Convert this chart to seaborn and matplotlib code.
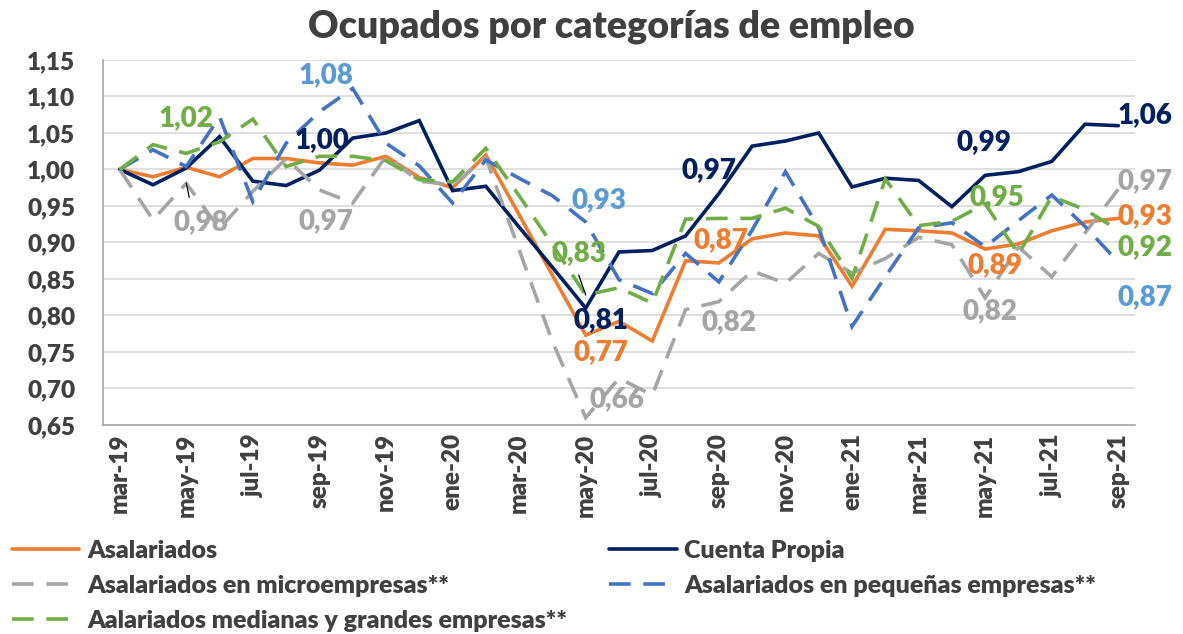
import matplotlib
matplotlib.use("Agg")
import matplotlib.pyplot as plt
import seaborn as sns
import numpy as np
import pandas as pd

months = ['mar-19', 'abr-19', 'may-19', 'jun-19', 'jul-19', 'ago-19', 'sep-19', 'oct-19',
          'nov-19', 'dic-19', 'ene-20', 'feb-20', 'mar-20', 'abr-20', 'may-20', 'jun-20',
          'jul-20', 'ago-20', 'sep-20', 'oct-20', 'nov-20', 'dic-20', 'ene-21', 'feb-21',
          'mar-21', 'abr-21', 'may-21', 'jun-21', 'jul-21', 'ago-21', 'sep-21']

asalariados = [1.000, 0.990, 1.003, 0.990, 1.015, 1.015, 1.009, 1.006, 1.018, 0.989, 0.975,
               1.020, 0.938, 0.855, 0.773, 0.792, 0.765, 0.875, 0.872, 0.905, 0.913, 0.909,
               0.840, 0.918, 0.916, 0.913, 0.891, 0.898, 0.916, 0.928, 0.933]
cuenta_propia = [1.000, 0.979, 1.002, 1.045, 0.984, 0.978, 0.999, 1.043, 1.050, 1.067, 0.971,
                 0.977, 0.921, 0.866, 0.810, 0.887, 0.889, 0.909, 0.967, 1.032, 1.039, 1.050,
                 0.976, 0.988, 0.985, 0.949, 0.992, 0.997, 1.011, 1.062, 1.060]
micro = [1.000, 0.931, 0.981, 0.919, 0.970, 1.015, 0.972, 0.954, 1.018, 0.984, 0.979,
         1.016, 0.890, 0.764, 0.660, 0.714, 0.691, 0.808, 0.819, 0.861, 0.844, 0.885,
         0.858, 0.878, 0.907, 0.897, 0.824, 0.894, 0.853, 0.913, 0.973]
pequenas = [1.000, 1.027, 1.004, 1.072, 0.956, 1.036, 1.079, 1.111, 1.036, 1.005, 0.954,
            1.013, 0.988, 0.964, 0.928, 0.849, 0.830, 0.885, 0.846, 0.917, 0.997, 0.920,
            0.785, 0.853, 0.920, 0.927, 0.894, 0.930, 0.965, 0.922, 0.873]
medianas = [1.000, 1.034, 1.022, 1.038, 1.069, 1.004, 1.018, 1.018, 1.012, 0.986, 0.983,
            1.029, 0.964, 0.897, 0.828, 0.838, 0.817, 0.932, 0.933, 0.933, 0.947, 0.922,
            0.851, 0.987, 0.923, 0.929, 0.953, 0.884, 0.963, 0.945, 0.917]

names = ['Asalariados', 'Cuenta Propia', 'Asalariados en microempresas**',
         'Asalariados en pequeñas empresas**', 'Aalariados medianas y grandes empresas**']
series = [asalariados, cuenta_propia, micro, pequenas, medianas]
line_colors = ['#ED7D31', '#002060', '#A5A5A5', '#4472C4', '#70AD47']
label_colors = ['#ED7D31', '#002060', '#A5A5A5', '#5B9BD5', '#70AD47']
dashed = [False, False, True, True, True]

# data labels: (series index, month index, offset x px, offset y px)
labels = [
    (4, 2, 0, 35), (3, 6, 7, 37), (1, 6, 2, 30), (2, 2, 15, -39), (2, 6, 7, -31),
    (3, 14, 13, 22), (4, 14, -7, 42), (1, 14, 15, -12), (0, 14, 15, -17), (2, 14, 31, 19),
    (1, 18, -10, 23), (0, 18, 2, 23), (2, 18, 10, -21),
    (1, 26, -1, 33), (4, 26, 12, 7), (0, 26, 10, -16), (2, 26, 5, -13),
    (1, 30, 27, 11), (2, 30, 27, 8), (0, 30, 27, 2), (4, 30, 27, -17), (3, 30, 27, -35),
]
# leader lines: (series index, month index, offset x px, offset y px)
leaders = [(2, 2, 3, -14), (4, 14, -7, 20)]

sns.set_style("white")
plt.rcParams['font.family'] = ['Lato', 'DejaVu Sans']
txt = '#404040'
W = 'heavy'

fig = plt.figure(figsize=(11.83, 6.34), dpi=100)
ax = fig.add_axes([0.0871, 0.3297, 0.8723, 0.5757])

x = np.arange(len(months))
for s, name, c, d in zip(series, names, line_colors, dashed):
    df = pd.DataFrame({'x': x, 'y': s})
    sns.lineplot(data=df, x='x', y='y', ax=ax, color=c, lw=2.6, label=name,
                 linestyle='--' if d else '-')
for line, d in zip(ax.get_lines(), dashed):
    if d:
        line.set_dashes((6, 3.5))
    line.set_solid_joinstyle('miter')
    line.set_dash_joinstyle('miter')
handles = ax.get_lines()
ax.get_legend().remove()

for si, mi, dx, dy in leaders:
    v = series[si][mi]
    ax.annotate('', xy=(mi, v), xytext=(dx, dy), textcoords='offset pixels',
                arrowprops=dict(arrowstyle='-', color='black', lw=0.9,
                                shrinkA=0, shrinkB=0))

for si, mi, dx, dy in labels:
    v = series[si][mi]
    ax.annotate(f"{v:.2f}".replace('.', ','), xy=(mi, v), xytext=(dx, dy),
                textcoords='offset pixels', ha='center', va='center',
                fontsize=20, fontweight=W, color=label_colors[si],
                annotation_clip=False)

ax.set_xlim(-0.5, len(months) - 0.5)
ax.set_ylim(0.65, 1.15)
yt = np.arange(0.65, 1.1501, 0.05)
ax.set_yticks(yt)
ax.set_yticklabels([f"{t:.2f}".replace('.', ',') for t in yt], fontsize=17.5,
                   fontweight=W, color=txt)
ax.set_xticks(x[::2])
ax.set_xticklabels(months[::2], rotation=90, fontsize=17.5, fontweight=W, color=txt)
ax.tick_params(axis='y', length=0, pad=20)
ax.tick_params(axis='x', length=0, pad=6)
ax.set_xlabel('')
ax.set_ylabel('')
ax.grid(axis='y', color='#D9D9D9', lw=1.2)
ax.set_axisbelow(True)
for sp in ['top', 'right']:
    ax.spines[sp].set_visible(False)
for sp in ['left', 'bottom']:
    ax.spines[sp].set_color('#A6A6A6')
    ax.spines[sp].set_linewidth(1.2)

fig.suptitle('Ocupados por categorías de empleo', x=0.517, y=0.985, fontsize=27,
             fontweight=W, color=txt)

order = [0, 2, 4, 1, 3]
leg = fig.legend([handles[i] for i in order], [names[i] for i in order], ncol=2,
                 loc='upper left', bbox_to_anchor=(0.01, 0.148), frameon=False,
                 handlelength=2.7, handletextpad=0.3, columnspacing=1.7,
                 labelspacing=0.52, borderaxespad=0, borderpad=0,
                 prop={'size': 18, 'weight': W})
for t in leg.get_texts():
    t.set_color(txt)

fig.savefig('out.png', dpi=100)
